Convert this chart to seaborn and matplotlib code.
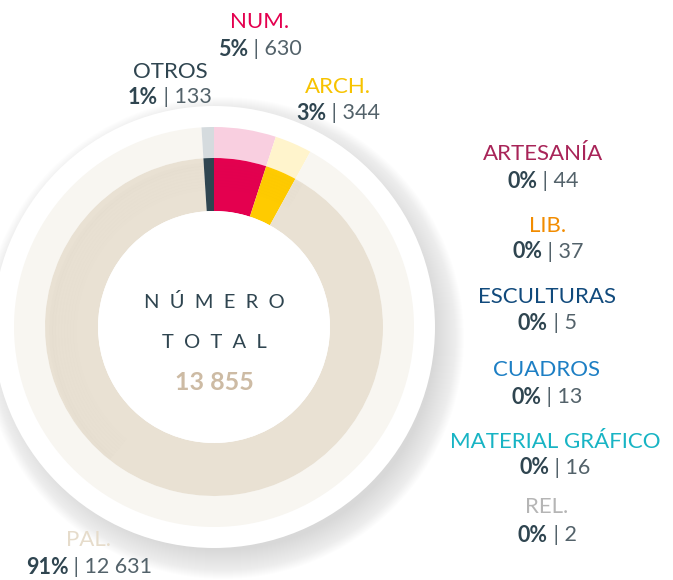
import numpy as np
import matplotlib
matplotlib.use("Agg")
import matplotlib.pyplot as plt
import seaborn as sns
from matplotlib.patches import Circle, Wedge

# ---------------- data ----------------
categories = ["NUM.", "ARCH.", "ARTESANÍA", "LIB.", "ESCULTURAS", "CUADROS",
              "MATERIAL GRÁFICO", "REL.", "PAL.", "OTROS"]
counts = [630, 344, 44, 37, 5, 13, 16, 2, 12631, 133]
percents = [5, 3, 0, 0, 0, 0, 0, 0, 91, 1]
total_label = "13 855"
center_title = ["NÚMERO", "TOTAL"]

# ---------------- styles ----------------
colors = ["#e4004f", "#ffcb00", "#a82458", "#f28c00", "#114a7c", "#1d7fc4",
          "#18b4c4", "#b5b5b5", "#e9e1d3", "#2f4550"]
light_colors = ["#f9cfe0", "#fff4cc", "#f3d9e3", "#fde6c8", "#cfdbe6", "#d1e4f2",
                "#cfeff2", "#ececec", "#f8f6f1", "#d5dbde"]
label_colors = ["#e4004f", "#f7c300", "#a82458", "#f28c00", "#114a7c", "#1d7fc4",
                "#18b4c4", "#b5b5b5", "#e6dccb", "#2f4550"]
DARK = "#2f4550"
GREY = "#53626a"

# label positions (pixel coords, y downward): center x, title line y, value line y
label_pos = {
    "NUM.": (260, 22, 49),
    "ARCH.": (338, 87, 113),
    "OTROS": (170, 72, 97),
    "ARTESANÍA": (543, 154, 181),
    "LIB.": (548, 226, 252),
    "ESCULTURAS": (547, 297, 323),
    "CUADROS": (547, 370, 397),
    "MATERIAL GRÁFICO": (555, 442, 468),
    "REL.": (547, 507, 535),
    "PAL.": (89, 540, 567),
}

W, H = 673, 580
sns.set_theme(style="white")
plt.rcParams['font.family'] = ['Lato', 'DejaVu Sans']

fig = plt.figure(figsize=(W / 100, H / 100), dpi=100)
fig.patch.set_facecolor("white")
ax = fig.add_axes([0, 0, 1, 1])


def Y(y):
    return H - y


cx, cy = 214, Y(327)
r_hole, r_inner, r_outer, r_disc = 116, 169, 200, 221

# soft shadow of white disc
for k in range(30):
    ax.add_patch(Circle((cx + 9, cy - 11), r_disc + 20 - k, color="#6e6e6e",
                        alpha=0.007, lw=0, zorder=1))
ax.add_patch(Circle((cx, cy), r_disc, color="white", lw=0, zorder=2))

# outer light ring
wed_o, _ = ax.pie(percents, colors=light_colors, radius=r_outer, center=(cx, cy),
                  startangle=90, counterclock=False,
                  wedgeprops=dict(width=r_outer - r_inner, linewidth=0))
for w in wed_o:
    w.set_zorder(3)
# inner solid ring
wed_i, _ = ax.pie(percents, colors=colors, radius=r_inner, center=(cx, cy),
                  startangle=90, counterclock=False,
                  wedgeprops=dict(width=r_inner - r_hole, linewidth=0))
for w in wed_i:
    w.set_zorder(4)
# subtle inner shading on the upper-left of the solid ring
for k in range(10):
    ax.add_patch(Wedge((cx + 4, cy - 4), r_inner - 3 * k, 60, 230, width=4,
                       color="#8a7a60", alpha=0.012 * (10 - k) / 10, lw=0, zorder=4.5))
ax.add_patch(Circle((cx, cy), r_hole, color="white", lw=0, zorder=5))

ax.set_xlim(0, W)
ax.set_ylim(0, H)
ax.set_aspect("auto")
ax.axis("off")

# center text
ax.text(cx, Y(302), "  ".join(center_title[0]), ha="center", va="center",
        fontsize=14.5, color=DARK, zorder=6)
ax.text(cx, Y(342), "  ".join(center_title[1]), ha="center", va="center",
        fontsize=14.5, color=DARK, zorder=6)
ax.text(cx, Y(382), total_label, ha="center", va="center", fontsize=18,
        fontweight="bold", color="#cdbba4", zorder=6)

fig.canvas.draw()
renderer = fig.canvas.get_renderer()


def fmt(n):
    return f"{n:,}".replace(",", " ")


for cat, cnt, pct, lc in zip(categories, counts, percents, label_colors):
    x, yt, yv = label_pos[cat]
    ax.text(x, Y(yt), cat, ha="center", va="center", fontsize=16,
            color=lc, zorder=6)
    t1 = ax.text(0, Y(yv), f"{pct}%", ha="left", va="center", fontsize=15.5,
                 fontweight="bold", color=DARK, zorder=6)
    t2 = ax.text(0, Y(yv), f" | {fmt(cnt)}", ha="left", va="center", fontsize=15.5,
                 fontweight="normal", color=GREY, zorder=6)
    w1 = t1.get_window_extent(renderer).width
    w2 = t2.get_window_extent(renderer).width
    x0 = x - (w1 + w2) / 2
    t1.set_x(x0)
    t2.set_x(x0 + w1)

fig.savefig("out.png", dpi=100, facecolor="white")
